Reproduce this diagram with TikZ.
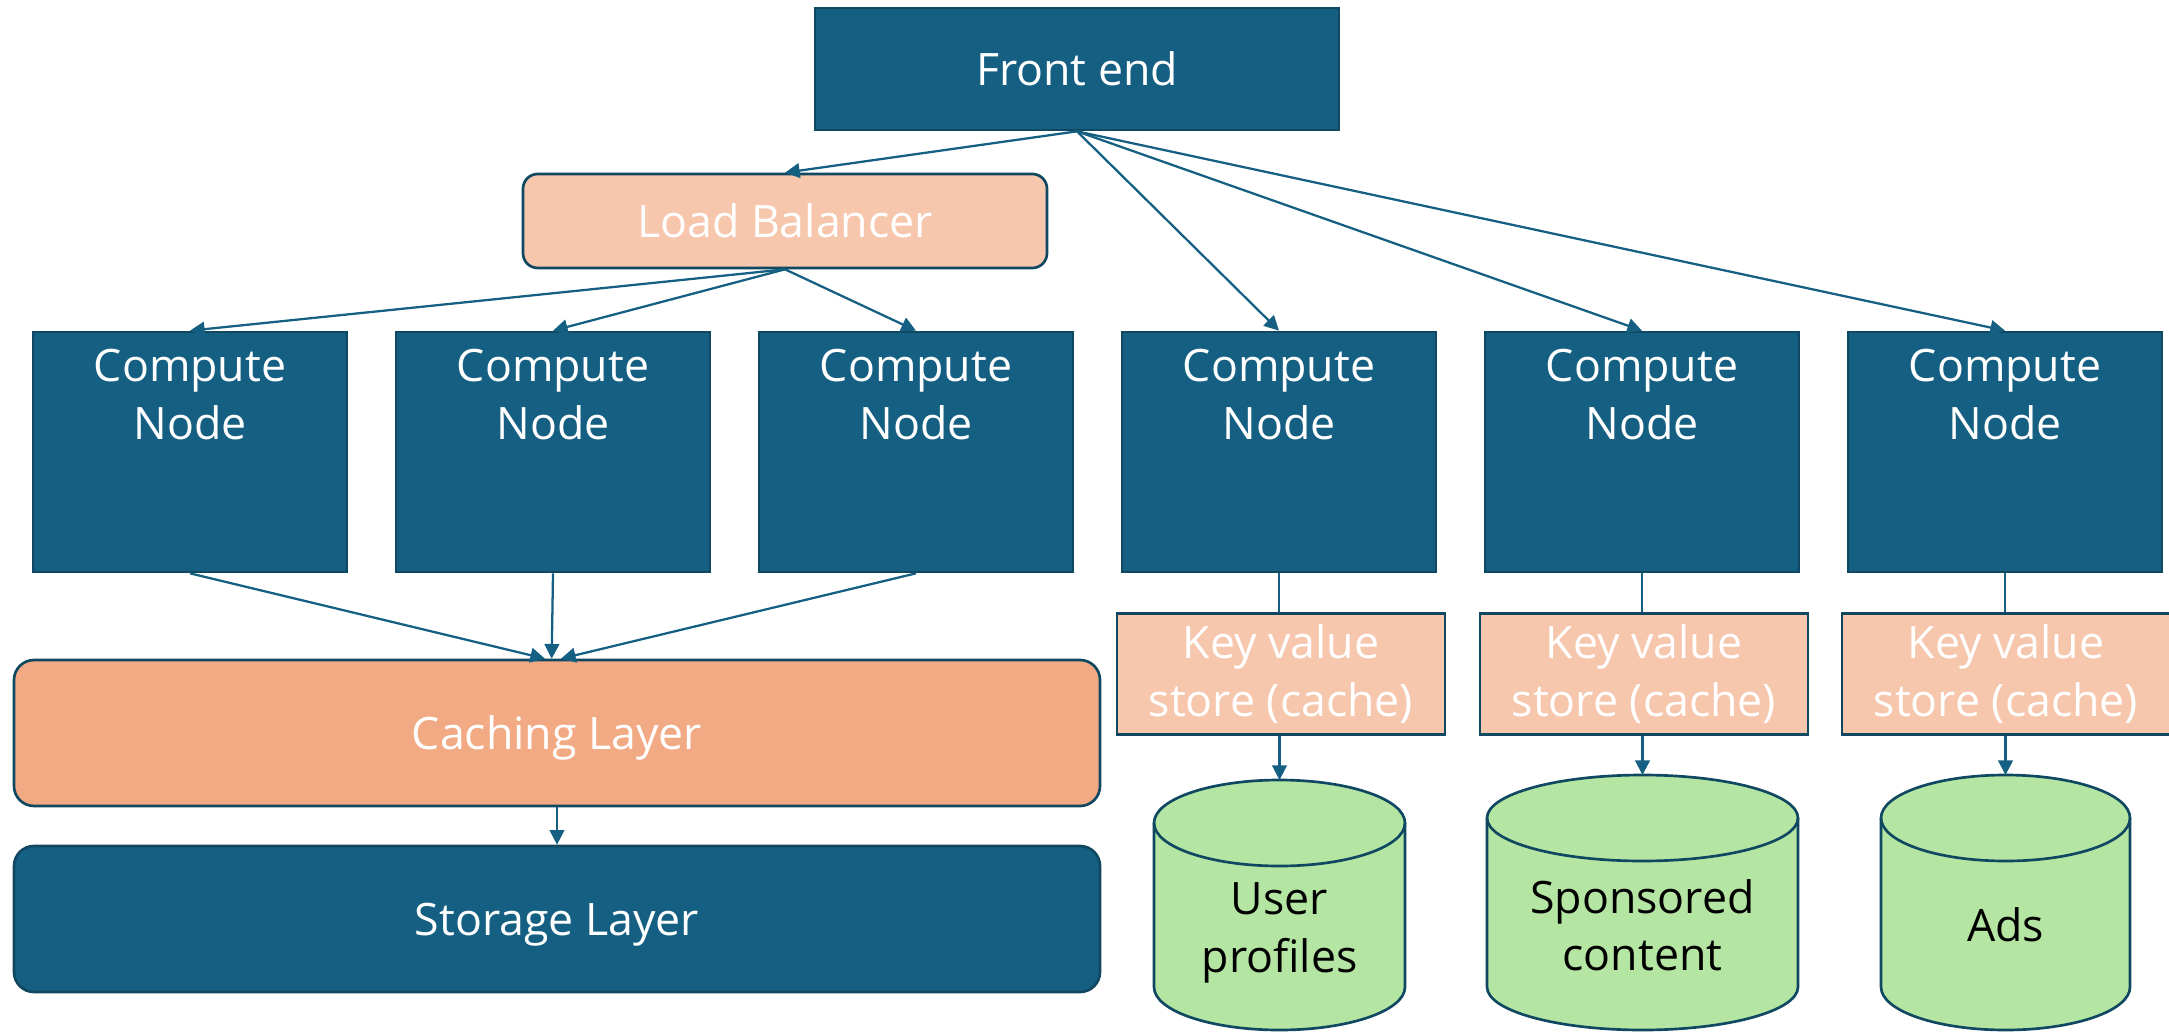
\documentclass[tikz,border=0pt]{standalone}
\usepackage{fontspec}
\setmainfont{Open Sans}
\usetikzlibrary{arrows.meta}

\definecolor{navy}{HTML}{156082}
\definecolor{edgeblue}{HTML}{104862}
\definecolor{peach}{HTML}{F6C6AD}
\definecolor{apricot}{HTML}{F2AA84}
\definecolor{mint}{HTML}{B4E5A2}

\tikzset{
  base/.style={draw=edgeblue, line width=2pt, inner sep=0pt, align=center,
    font=\fontsize{33.5}{43}\selectfont},
  darkbox/.style={base, fill=navy, text=white},
  peachbox/.style={base, fill=peach, text=white},
  computebox/.style={darkbox, minimum width=235.5pt, minimum height=180pt},
  kvbox/.style={peachbox, minimum width=246pt, minimum height=90.75pt},
  layerbox/.style={base, rounded corners=15pt, minimum width=814.5pt, minimum height=109.5pt,
    text=white, text depth=0pt},
  wtext/.style={inner sep=0pt, align=center, text=white, font=\fontsize{33.5}{43}\selectfont},
  btext/.style={inner sep=0pt, align=center, text=black, font=\fontsize{33.5}{43}\selectfont},
  dbshape/.style={draw=edgeblue, line width=2pt, fill=mint},
  link/.style={draw=navy, line width=1.7pt},
  arrow/.style={link, -{Triangle[length=11pt, width=11pt]}},
}

% database cylinder: name, centre x, top ellipse centre y, bottom ellipse centre y, x radius, y radius
\newcommand\dbcylinder[6]{%
  \path[dbshape] (#2-#5,#3) -- (#2-#5,#4)
    arc[start angle=180, end angle=0, x radius=#5, y radius=#6]
    -- (#2+#5,#3)
    arc[start angle=0, end angle=-180, x radius=#5, y radius=#6] -- cycle;
  \draw[edgeblue, line width=2pt] (#2-#5,#3)
    arc[start angle=180, end angle=0, x radius=#5, y radius=#6];
  \coordinate (#1) at (#2,#3-#6);
}

\begin{document}
\begin{tikzpicture}[x=0.75pt, y=-0.75pt]
\useasboundingbox (0,0) rectangle (2169,1031);

% front end and load balancer
\node[darkbox, minimum width=393pt, minimum height=91.5pt] (fe) at (1077,69) {Front end};
\node[peachbox, rounded corners=11pt, minimum width=393pt, minimum height=70.5pt] (lb) at (785,221) {Load Balancer};

% compute nodes
\foreach \i/\x in {1/190,2/553,3/916,4/1279,5/1642,6/2005} {
  \node[computebox] (cn\i) at (\x,452) {};
  \node[wtext, anchor=north] (cn\i t) at ([yshift=-14pt]cn\i.north) {Compute\\Node};
}

% shared caching and storage layers
\node[layerbox, fill=apricot] (cache) at (557,733) {Caching Layer};
\node[layerbox, fill=navy] (store) at (557,919) {Storage Layer};

% key value stores
\node[kvbox] (kv1) at (1281,674) {Key value\\store (cache)};
\node[kvbox] (kv2) at (1644,674) {Key value\\store (cache)};
\node[kvbox] (kv3) at (2006,674) {Key value\\store (cache)};

% databases
\dbcylinder{db1}{1279.5}{823}{987}{125.5}{43}
\dbcylinder{db2}{1642.5}{818}{987}{155.5}{43}
\dbcylinder{db3}{2005.5}{818}{987}{124.5}{43}
\node[btext] (db1t) at (1279.5,933) {User\\profiles};
\node[btext] (db2t) at (1642.5,925) {Sponsored\\content};
\node[btext] (db3t) at (2005.5,925) {Ads};

% connectors from the front end
\draw[arrow] (fe.south) -- (lb.north);
\draw[arrow] (fe.south) -- (cn4.north);
\draw[arrow] (fe.south) -- (cn5.north);
\draw[arrow] (fe.south) -- (cn6.north);

% load balancer to the first three compute nodes
\draw[arrow] (lb.south) -- (cn1.north);
\draw[arrow] (lb.south) -- (cn2.north);
\draw[arrow] (lb.south) -- (cn3.north);

% compute nodes into the caching layer
\draw[arrow] (cn1.south) -- ([xshift=-9pt]cache.north);
\draw[arrow] (cn2.south) -- ([xshift=-4pt]cache.north);
\draw[arrow] (cn3.south) -- ([xshift=3pt]cache.north);
\draw[arrow] (cache.south) -- (store.north);

% compute nodes to their key value stores and databases
\draw[link] (cn4.south) -- (cn4.south |- kv1.north);
\draw[link] (cn5.south) -- (cn5.south |- kv2.north);
\draw[link] (cn6.south) -- (cn6.south |- kv3.north);
\draw[arrow] (kv1.south -| db1) -- (db1);
\draw[arrow] (kv2.south -| db2) -- (db2);
\draw[arrow] (kv3.south -| db3) -- (db3);
\end{tikzpicture}
\end{document}
